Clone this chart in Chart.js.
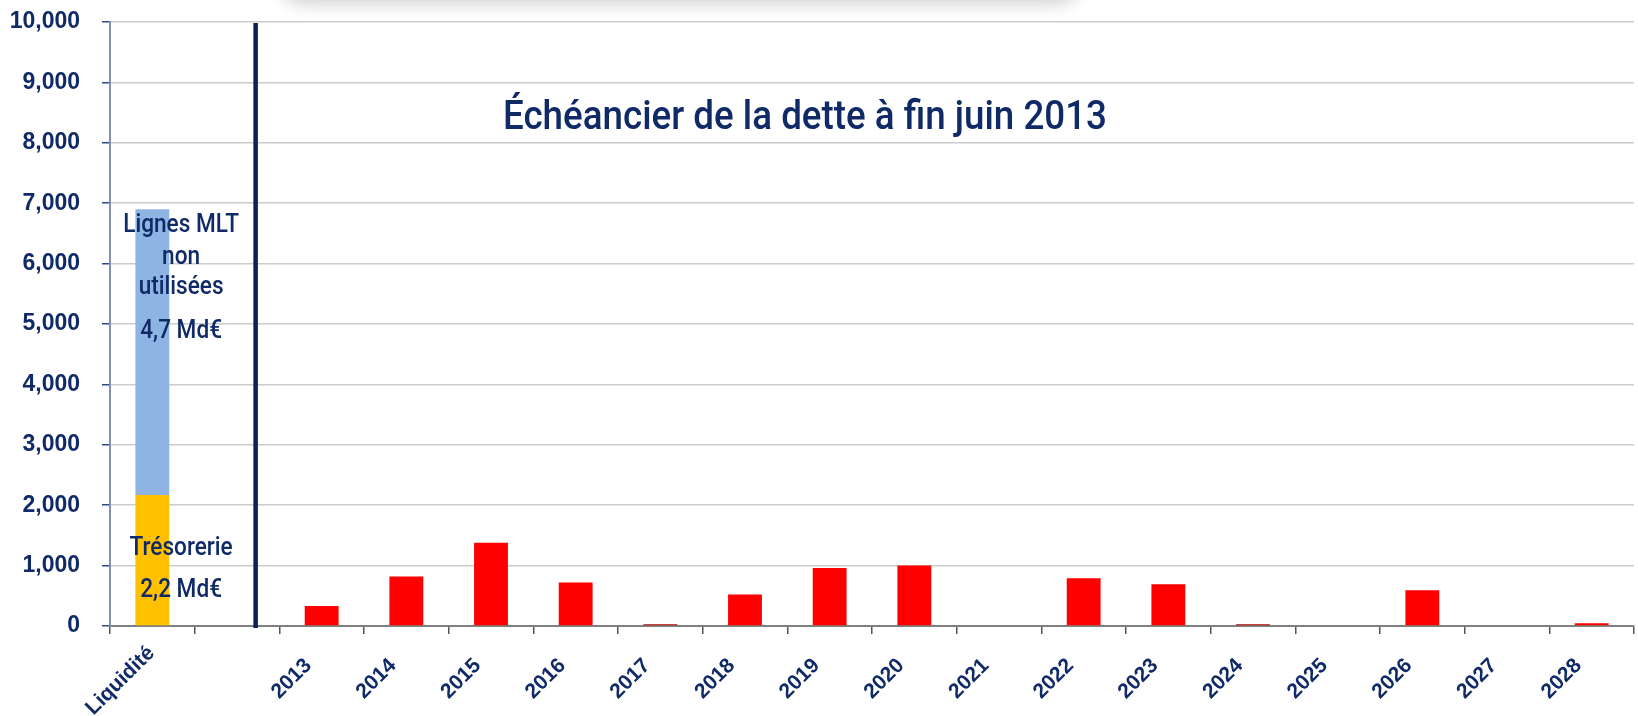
<!DOCTYPE html>
<html>
<head>
<meta charset="utf-8">
<script src="https://cdn.jsdelivr.net/npm/chart.js@4.4.0/dist/chart.umd.min.js"></script>
<style>
  html, body { margin: 0; padding: 0; background: #fff; overflow: hidden; }
  #wrap { position: relative; width: 1638px; height: 716px; }
  #shadow { position: absolute; left: 285px; top: -34px; width: 790px; height: 34px;
            background: #fff; box-shadow: 0 0 18px 3px rgba(0,0,0,0.2); border-radius: 16px; }
  canvas { position: absolute; left: 0; top: 0; }
</style>
</head>
<body>
<div id="wrap">
  <div id="shadow"></div>
  <canvas id="chart" width="1638" height="716"></canvas>
</div>
<script>
// categories
const labels = ['Liquidité', '', '2013', '2014', '2015', '2016', '2017', '2018', '2019', '2020',
  '2021', '2022', '2023', '2024', '2025', '2026', '2027', '2028'];

// liquidité (M€)
const tresorerie = [2170, null, null, null, null, null, null, null, null, null, null, null, null, null, null, null, null, null];
const lignesMLT = [4730, null, null, null, null, null, null, null, null, null, null, null, null, null, null, null, null, null];

// échéances de la dette (M€)
const echeances = [null, null, 330, 820, 1380, 720, 30, 520, 960, 1000, 0, 790, 690, 30, 0, 590, 0, 45];

const titleText = 'Échéancier de la dette à fin juin 2013';
const textMLT = ['Lignes MLT', 'non', 'utilisées', '4,7 Md€'];
const textTreso = ['Trésorerie', '2,2 Md€'];

const navy = '#0f2a66';

// ligne verticale + textes sur la barre de liquidité
const annotPlugin = {
  id: 'annot',
  afterDatasetsDraw(chart) {
    const ctx = chart.ctx;
    const x = chart.scales.x, y = chart.scales.y;
    const w = x.getPixelForValue(1) - x.getPixelForValue(0);

    // séparateur
    ctx.save();
    const sx = x.getPixelForValue(1) + w * 0.22;
    ctx.strokeStyle = '#0a1f5c';
    ctx.lineWidth = 4.5;
    ctx.beginPath();
    ctx.moveTo(sx, y.getPixelForValue(10000) + 1);
    ctx.lineTo(sx, y.getPixelForValue(0) + 2);
    ctx.stroke();
    ctx.restore();

    // textes (police étroite : on compresse horizontalement)
    const tx = x.getPixelForValue(0) + w * 0.34;
    const top = y.getPixelForValue(tresorerie[0] + lignesMLT[0]);
    const bot = y.getPixelForValue(0);
    const narrowText = (t, px, py, sc) => {
      ctx.save();
      ctx.translate(px, py);
      ctx.scale(sc, 1);
      ctx.fillText(t, 0, 0);
      ctx.restore();
    };
    ctx.save();
    ctx.fillStyle = navy;
    ctx.font = '500 26px Roboto, "Liberation Sans", sans-serif';
    ctx.textAlign = 'center';
    ctx.textBaseline = 'alphabetic';
    const offM = [23, 55, 85, 129];
    textMLT.forEach((t, i) => narrowText(t, tx, top + offM[i], 0.87));
    const offT = [-71, -29];
    textTreso.forEach((t, i) => narrowText(t, tx, bot + offT[i], 0.87));

    // titre
    ctx.font = '500 41px Roboto, "Liberation Sans", sans-serif';
    const tw = ctx.measureText(titleText).width;
    narrowText(titleText, 805, 129, Math.min(1, 604 / tw));
    ctx.restore();
  }
};

new Chart(document.getElementById('chart'), {
  type: 'bar',
  data: {
    labels: labels,
    datasets: [
      { label: 'Trésorerie', data: tresorerie, backgroundColor: '#ffc000' },
      { label: 'Lignes MLT non utilisées', data: lignesMLT, backgroundColor: '#8eb4e3' },
      { label: 'Échéances', data: echeances,
        backgroundColor: ctx => (ctx.raw !== null && ctx.raw < 40) ? '#b00000' : '#ff0000' }
    ]
  },
  options: {
    responsive: false,
    animation: false,
    layout: { padding: { left: 0, right: 4, top: 22, bottom: 0 } },
    datasets: { bar: { barPercentage: 0.4, categoryPercentage: 1.0 } },
    plugins: { legend: { display: false }, tooltip: { enabled: false } },
    scales: {
      x: {
        stacked: true,
        grid: { drawOnChartArea: false, color: '#555', tickLength: 8, lineWidth: 1.5 },
        border: { color: '#808080', width: 2 },
        ticks: {
          color: navy, minRotation: 45, maxRotation: 45, padding: 7, labelOffset: -1,
          font: { family: '"Liberation Sans", Arial, sans-serif', size: 21, weight: 'bold' },
          // Excel centre les libellés inclinés : on complète les libellés courts par des espaces
          callback: (v, i) => labels[i] ? labels[i].padEnd(Math.round((labels[i].length + 9) / 2)) : ''
        },
        afterFit(scale) { scale.height = 90; }
      },
      y: {
        stacked: true,
        min: 0, max: 10000,
        grid: { color: '#cccccc', lineWidth: 1.5, tickLength: 8, tickColor: '#2e4a85' },
        border: { color: '#8291b3', width: 2 },
        ticks: {
          stepSize: 1000, color: navy, padding: 22,
          font: { family: '"Liberation Sans", Arial, sans-serif', size: 23, weight: 'bold' },
          callback: v => v.toLocaleString('en-US')
        },
        afterFit(scale) {
          scale.width = 110;
          scale.paddingTop = 10;
          scale.paddingBottom = 0;
        }
      }
    }
  },
  plugins: [annotPlugin]
});
</script>
</body>
</html>
